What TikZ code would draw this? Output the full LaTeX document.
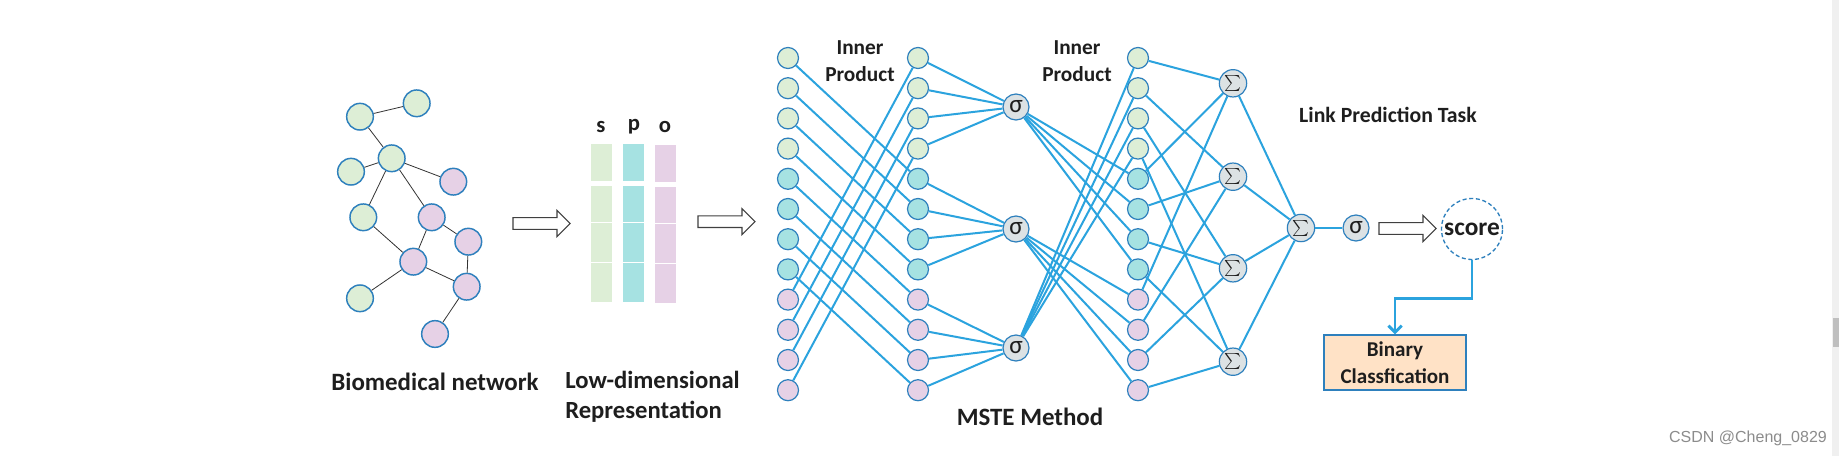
\documentclass[tikz,border=0pt]{standalone}
\usepackage{exscale}
\usepackage{fontspec}
\setmainfont{Carlito}
\newfontfamily\wmfont{Liberation Sans}
\usetikzlibrary{arrows.meta}
\definecolor{gfill}{RGB}{221,238,214}
\definecolor{tfill}{RGB}{166,226,226}
\definecolor{pfill}{RGB}{230,209,230}
\definecolor{nedge}{RGB}{46,128,189}
\definecolor{lblue}{RGB}{43,163,222}
\definecolor{opfill}{RGB}{220,226,228}
\definecolor{boxfill}{RGB}{255,226,198}
\definecolor{txt}{RGB}{30,30,30}
\newcommand\hollowarr[2]{\draw[harrow] (#1,#2-5.8) -- ++(44,0) -- ++(0,-7.2) -- ++(13,13) -- ++(-13,13) -- ++(0,-7.2) -- ++(-44,0) -- cycle;}
\tikzset{
  netnode/.style={circle, draw=nedge, line width=1.1pt, minimum size=20pt, inner sep=0pt},
  colnode/.style={circle, draw=nedge, line width=0.9pt, minimum size=15.75pt, inner sep=0pt},
  opnode/.style={circle, draw=nedge, fill=opfill, line width=0.9pt, minimum size=19.5pt, inner sep=0pt, text=txt},
  signode/.style={opnode, font=\fontsize{19}{19}\selectfont},
  sumnode/.style={opnode, minimum size=20.5pt, font=\fontsize{13}{13}\selectfont},
  conn/.style={draw=lblue, line width=1.5pt},
  netedge/.style={draw=black!80, line width=0.6pt},
  harrow/.style={draw=black!75, fill=white, line width=0.8pt},
  lbl/.style={text=txt, align=center, inner sep=0pt},
}
\begin{document}
\begin{tikzpicture}[x=0.75pt, y=-0.75pt]
\fill[white] (0,0) rectangle (1839,456);
\useasboundingbox (0,0) rectangle (1839,456);
% scrollbar
\fill[black!6] (1832,0) rectangle (1839,456);
\fill[black!25] (1833,318) rectangle (1839,347);

% ---------- biomedical network ----------
\node[netnode, fill=gfill] (A) at (360,116.7) {};
\node[netnode, fill=gfill] (B) at (416.7,103.3) {};
\node[netnode, fill=gfill] (C) at (391.7,158.3) {};
\node[netnode, fill=gfill] (D) at (351,171.7) {};
\node[netnode, fill=pfill] (E) at (453.3,181.7) {};
\node[netnode, fill=gfill] (F) at (363.3,217.3) {};
\node[netnode, fill=pfill] (G) at (431.7,217.3) {};
\node[netnode, fill=pfill] (H) at (468.3,241.7) {};
\node[netnode, fill=pfill] (I) at (413.3,261.7) {};
\node[netnode, fill=pfill] (J) at (466.7,286.7) {};
\node[netnode, fill=gfill] (K) at (360,298.3) {};
\node[netnode, fill=pfill] (L) at (435,334) {};
\foreach \u/\v in {A/B, A/C, C/D, C/E, C/F, C/G, G/H, G/I, F/I, I/J, H/J, I/K, J/L}
  \draw[netedge] (\u) -- (\v);
\node[lbl, font=\bfseries\fontsize{18.7}{22}\selectfont] (bn) at (435,382) {Biomedical network};

\hollowarr{513}{223.5}

% ---------- representation ----------
\node[lbl, font=\bfseries\fontsize{17}{19}\selectfont] (ls) at (601,127) {s};
\node[lbl, font=\bfseries\fontsize{17}{19}\selectfont] (lp) at (634,127) {p};
\node[lbl, font=\bfseries\fontsize{17}{19}\selectfont] (lo) at (665,127) {o};
\foreach \ya/\yb in {144/181, 186/222.3, 223.3/261.7, 262.7/301.7}{
  \fill[gfill] (591,\ya) rectangle (612,\yb);
  \fill[tfill] (623,\ya) rectangle (644,\yb);
}
\foreach \ya/\yb in {145/182.3, 186.7/223.3, 224.3/263.3, 264.3/302.7}
  \fill[pfill] (655,\ya) rectangle (676,\yb);
\node[lbl, anchor=west, align=left, font=\bfseries\fontsize{18.5}{22.5}\selectfont] (ldr) at (565,397) {Low-dimensional\\Representation};

\hollowarr{698}{221.7}

% ---------- MSTE ----------
\foreach \i in {0,...,11}{
  \pgfmathtruncatemacro\g{int(\i/4)}
  \ifcase\g \def\fc{gfill}\or \def\fc{tfill}\else \def\fc{pfill}\fi
  \node[colnode, fill=\fc] (a\i) at (788,{58+30.2*\i}) {};
  \node[colnode, fill=\fc] (b\i) at (918,{58+30.2*\i}) {};
  \node[colnode, fill=\fc] (c\i) at (1138,{58+30.2*\i}) {};
}
\node[signode] (s0) at (1016,107) {σ};
\node[signode] (s1) at (1016,229) {σ};
\node[signode] (s2) at (1016,348) {σ};
\node[sumnode] (S0) at (1233,83.3) {$\textstyle\sum$};
\node[sumnode] (S1) at (1233,176.7) {$\textstyle\sum$};
\node[sumnode] (S2) at (1233,268.3) {$\textstyle\sum$};
\node[sumnode] (S3) at (1233,361.7) {$\textstyle\sum$};
\node[sumnode] (SF) at (1301,228) {$\textstyle\sum$};
\node[signode] (sf) at (1356,228) {σ};

\foreach \i in {0,...,11}{
  \pgfmathtruncatemacro\j{mod(\i+4,12)}
  \pgfmathtruncatemacro\g{int(\i/4)}
  \pgfmathtruncatemacro\h{mod(\g+2,3)}
  \pgfmathtruncatemacro\k{mod(\i,4)}
  \draw[conn] (a\i) -- (b\j);
  \draw[conn] (b\i) -- (s\g);
  \draw[conn] (s\h) -- (c\i);
  \draw[conn] (c\i) -- (S\k);
}
\foreach \k in {0,...,3} \draw[conn] (S\k) -- (SF);
\draw[conn] (SF) -- (sf);

\node[lbl, font=\bfseries\fontsize{16}{20}\selectfont] (ip1) at (860,61) {Inner\\Product};
\node[lbl, font=\bfseries\fontsize{16}{20}\selectfont] (ip2) at (1077,61) {Inner\\Product};
\node[lbl, font=\bfseries\fontsize{18.7}{20}\selectfont] (mm) at (1030,417) {MSTE Method};

% ---------- link prediction ----------
\node[lbl, font=\bfseries\fontsize{16.3}{18}\selectfont] (lpt) at (1388,115) {Link Prediction Task};
\hollowarr{1379}{228.5}
\node[circle, draw=nedge, dash pattern=on 3pt off 2pt, line width=1pt, minimum size=45.75pt, inner sep=0pt, text=txt, font=\bfseries\fontsize{19}{19}\selectfont] (score) at (1472,229) {score};
\node[draw=nedge, fill=boxfill, line width=0.9pt, minimum width=106.5pt, minimum height=41.25pt, text=txt, align=center, font=\bfseries\fontsize{15.8}{20}\selectfont] (bc) at (1395,362.5) {Binary\\Classfication};
\draw[lblue, line width=2.2pt, -{Straight Barb[length=5pt,width=10pt]}] (score.south) -- ++(0,38) -| (bc.north);

\node[font=\wmfont\fontsize{12}{12}\selectfont, text=black!45, inner sep=0pt] (wm) at (1748,438) {CSDN @Cheng\_0829};
\end{tikzpicture}
\end{document}
